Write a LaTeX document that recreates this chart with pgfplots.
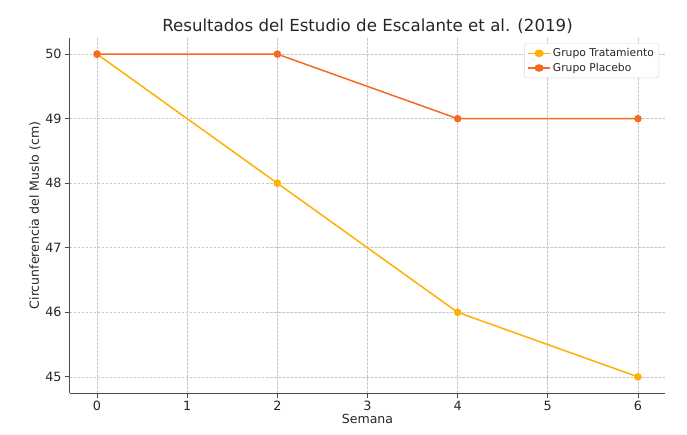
\documentclass[border=0pt]{standalone}
\usepackage{pgfplots}
\pgfplotsset{compat=1.18}
\usepackage{fontspec}
\setmainfont{DejaVu Sans}
\definecolor{trat}{HTML}{FFB000}
\definecolor{plac}{HTML}{F26B21}
\begin{document}
\begin{tikzpicture}
\path[use as bounding box] (-70bp,-42bp) rectangle (617bp,393bp);
\begin{axis}[
    scale only axis,
    width=595bp, height=355bp,
    axis lines=left,
    axis line style={-, draw=black!70, line width=1bp},
    xmin=-0.3, xmax=6.3,
    ymin=44.75, ymax=50.25,
    xtick={0,1,2,3,4,5,6},
    ytick={45,46,47,48,49,50},
    tick style={draw=black!70, line width=0.9bp},
    tick align=outside,
    major tick length=5bp,
    grid=major,
    grid style={dash pattern=on 2.5bp off 1.5bp, draw=black!22, line width=0.7bp},
    ticklabel style={font=\fontsize{12.8}{15}\selectfont, text=black!85},
    /pgf/number format/assume math mode=true,
    title={Resultados del Estudio de Escalante et al. (2019)},
    title style={font=\fontsize{16.7}{19}\selectfont, text=black!85, yshift=-5bp},
    xlabel={Semana},
    ylabel={Circunferencia del Muslo (cm)},
    label style={font=\fontsize{12.6}{15}\selectfont, text=black!85},
    xlabel style={yshift=4bp},
    ylabel style={yshift=-2bp},
    legend style={font=\fontsize{10.8}{13}\selectfont, text=black!85, draw=black!15, rounded corners=2pt, at={(0.99,0.985)}, anchor=north east, row sep=1bp, inner sep=3bp},
    legend image post style={xscale=1.3},
    legend cell align=left,
]
\addplot[color=trat, line width=1.5bp, mark=*, mark size=3bp, mark options={draw=trat, fill=trat}]
  coordinates {(0,50) (2,48) (4,46) (6,45)};
\addlegendentry{Grupo Tratamiento}
\addplot[color=plac, line width=1.5bp, mark=*, mark size=3bp, mark options={draw=plac, fill=plac}]
  coordinates {(0,50) (2,50) (4,49) (6,49)};
\addlegendentry{Grupo Placebo}
\end{axis}
\end{tikzpicture}
\end{document}
